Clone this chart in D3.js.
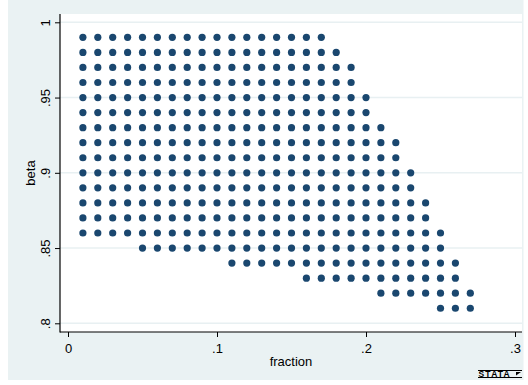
<!DOCTYPE html>
<html>
<head>
<meta charset="utf-8">
<script src="https://cdn.jsdelivr.net/npm/d3@7"></script>
<style>
  body { margin: 0; background: #fff; }
  text { font-family: "Liberation Sans", Arial, sans-serif; fill: #000; }
</style>
</head>
<body>
<svg id="chart" width="528" height="385"></svg>
<script>
// fraction values used in the grid
var fractions = [.01, .02, .03, .04, .05, .06, .07, .08, .09, .10, .11, .12, .13, .14,
    .15, .16, .17, .18, .19, .20, .21, .22, .23, .24, .25, .26, .27]

// one row of dots per beta level, from first to last fraction shown
var betas = [.99, .98, .97, .96, .95, .94, .93, .92, .91, .90, .89, .88, .87, .86, .85, .84, .83, .82, .81]
var rowFirst = [.01, .01, .01, .01, .01, .01, .01, .01, .01, .01, .01, .01, .01, .01, .05, .11, .16, .21, .25]
var rowLast = [.17, .18, .19, .19, .20, .20, .21, .22, .22, .23, .23, .24, .24, .25, .25, .26, .26, .27, .27]

var xTicks = [0, .1, .2, .3]
var yTicks = [.8, .85, .9, .95, 1]

var points = []
betas.forEach(function (b, i) {
    fractions.forEach(function (f) {
        if (f >= rowFirst[i] - 1e-9 && f <= rowLast[i] + 1e-9) points.push({ fraction: f, beta: b })
    })
})

var svg = d3.select('#chart')

var plot = { left: 60, right: 522, top: 14, bottom: 332 }

var x = d3.scaleLinear().domain([0, .3]).range([68, 515])
var y = d3.scaleLinear().domain([.8, 1]).range([323.3, 22.3])

function stataFmt(d) {
    if (d === 0) return '0'
    if (d === 1) return '1'
    return String(+d.toFixed(2)).replace(/^0/, '')
}

// outer graph region
svg.append('rect')
    .attr('x', 8).attr('y', 0)
    .attr('width', 515.5).attr('height', 380)
    .attr('fill', '#eaf2f3')

// plot region
svg.append('rect')
    .attr('x', plot.left).attr('y', plot.top)
    .attr('width', plot.right - plot.left).attr('height', plot.bottom - plot.top)
    .attr('fill', '#fff')

// gridlines
svg.append('g')
    .selectAll('line')
    .data(yTicks)
    .enter()
    .append('line')
    .attr('x1', plot.left).attr('x2', plot.right)
    .attr('y1', function (d) { return y(d) })
    .attr('y2', function (d) { return y(d) })
    .attr('stroke', '#e8f0f2')
    .attr('stroke-width', 1.5)

// points
svg.append('g')
    .selectAll('circle')
    .data(points)
    .enter()
    .append('circle')
    .attr('cx', function (d) { return x(d.fraction) })
    .attr('cy', function (d) { return y(d.beta) })
    .attr('r', 3.6)
    .attr('fill', '#1a476f')

// y axis
var yAxis = svg.append('g')
    .attr('transform', 'translate(' + plot.left + ',0)')
    .call(d3.axisLeft(y).tickValues(yTicks).tickFormat(stataFmt).tickSize(5).tickSizeOuter(0))
yAxis.select('.domain').remove()
yAxis.selectAll('.tick line').attr('stroke', '#000')
yAxis.selectAll('.tick text')
    .attr('transform', 'rotate(-90)')
    .attr('x', 0).attr('y', -10).attr('dy', 0)
    .attr('text-anchor', 'middle')
    .style('font-size', '13px')

// x axis
var xAxis = svg.append('g')
    .attr('transform', 'translate(0,' + plot.bottom + ')')
    .call(d3.axisBottom(x).tickValues(xTicks).tickFormat(stataFmt).tickSize(5).tickSizeOuter(0))
xAxis.select('.domain').remove()
xAxis.selectAll('.tick line').attr('stroke', '#000')
xAxis.selectAll('.tick text')
    .attr('y', 21).attr('dy', 0)
    .style('font-size', '13px')

// axis lines
svg.append('line')
    .attr('x1', plot.left).attr('x2', plot.left)
    .attr('y1', plot.top).attr('y2', plot.bottom + 0.5)
    .attr('stroke', '#000').attr('stroke-width', 1.2)
svg.append('line')
    .attr('x1', plot.left).attr('x2', plot.right)
    .attr('y1', plot.bottom).attr('y2', plot.bottom)
    .attr('stroke', '#000').attr('stroke-width', 1.2)

// axis titles
svg.append('text')
    .attr('x', (plot.left + plot.right) / 2).attr('y', 366)
    .attr('text-anchor', 'middle')
    .style('font-size', '13px')
    .text('fraction')

svg.append('text')
    .attr('transform', 'translate(35,' + (plot.top + plot.bottom) / 2 + ') rotate(-90)')
    .attr('text-anchor', 'middle')
    .style('font-size', '13px')
    .text('beta')

// stata mark
var logo = svg.append('g').attr('transform', 'translate(478,370)')
logo.append('rect').attr('x', 0).attr('y', 0).attr('width', 44).attr('height', 1).attr('fill', '#000')
logo.append('rect').attr('x', 0).attr('y', 7).attr('width', 44).attr('height', 1).attr('fill', '#000')
logo.append('text')
    .attr('x', 0.5).attr('y', 6.6)
    .style('font-size', '8.5px').style('font-weight', 'bold')
    .style('letter-spacing', '1.2px')
    .text('STATA')
logo.append('path')
    .attr('d', 'M38,2 L43,2 L38,5.5 Z')
    .attr('fill', '#000')
</script>
</body>
</html>
